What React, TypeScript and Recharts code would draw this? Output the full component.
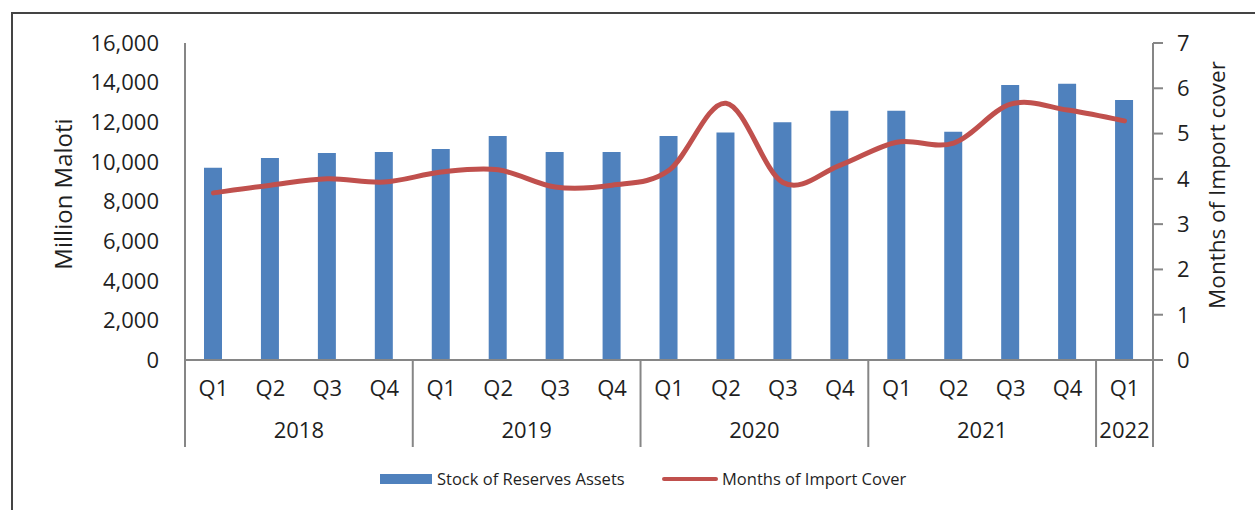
import React from 'react';
import { ComposedChart, Bar, Line, XAxis, YAxis, Legend } from 'recharts';

const quarters = ['Q1', 'Q2', 'Q3', 'Q4', 'Q1', 'Q2', 'Q3', 'Q4', 'Q1', 'Q2', 'Q3', 'Q4', 'Q1', 'Q2', 'Q3', 'Q4', 'Q1'];
const years = ['2018', '2018', '2018', '2018', '2019', '2019', '2019', '2019', '2020', '2020', '2020', '2020', '2021', '2021', '2021', '2021', '2022'];
const reserves = [9700, 10200, 10450, 10500, 10650, 11300, 10500, 10500, 11300, 11480, 12000, 12580, 12580, 11520, 13880, 13940, 13120];
const importCover = [3.69, 3.86, 4.0, 3.93, 4.15, 4.2, 3.82, 3.86, 4.19, 5.67, 3.92, 4.3, 4.81, 4.79, 5.65, 5.52, 5.28];
const leftTicks = [0, 2000, 4000, 6000, 8000, 10000, 12000, 14000, 16000];
const rightTicks = [0, 1, 2, 3, 4, 5, 6, 7];

const data = quarters.map((q, i) => ({
  key: `${years[i]}-${q}`,
  q,
  year: years[i],
  reserves: reserves[i],
  cover: importCover[i],
}));

const FONT = '"Open Sans", sans-serif';
const TEXT = '#1f1f1f';
const AXIS = '#868686';
const BLUE = '#4F81BD';
const RED = '#C0504D';

// Excel-like smoothed line (Catmull-Rom through points)
function excelCurve(context: any) {
  let pts: [number, number][] = [];
  return {
    areaStart() {},
    areaEnd() {},
    lineStart() {
      pts = [];
    },
    point(x: number, y: number) {
      pts.push([+x, +y]);
    },
    lineEnd() {
      const n = pts.length;
      if (!n) return;
      context.moveTo(pts[0][0], pts[0][1]);
      for (let i = 0; i < n - 1; i++) {
        const p0 = pts[Math.max(i - 1, 0)];
        const p1 = pts[i];
        const p2 = pts[i + 1];
        const p3 = pts[Math.min(i + 2, n - 1)];
        context.bezierCurveTo(
          p1[0] + (p2[0] - p0[0]) / 6,
          p1[1] + (p2[1] - p0[1]) / 6,
          p2[0] - (p3[0] - p1[0]) / 6,
          p2[1] - (p3[1] - p1[1]) / 6,
          p2[0],
          p2[1]
        );
      }
    },
  };
}

const PLOT_W = 968;

const CategoryTick = (props: any) => {
  const { x, y, payload, index } = props;
  const i = typeof index === 'number' ? index : payload.index;
  const band = payload && payload.offset ? payload.offset * 2 : PLOT_W / data.length;
  const row = data[i];
  const els: React.ReactNode[] = [];
  els.push(
    <text key="q" x={x} y={y + 19} textAnchor="middle" dominantBaseline="central" fontFamily={FONT} fontSize={22} fill={TEXT}>
      {row.q}
    </text>
  );
  const isStart = i === 0 || data[i - 1].year !== row.year;
  if (isStart) {
    let count = 0;
    for (let j = i; j < data.length && data[j].year === row.year; j++) count++;
    const left = x - band / 2;
    els.push(<line key="sep" x1={left} x2={left} y1={y - 8} y2={y + 79} stroke={AXIS} strokeWidth={2} />);
    els.push(
      <text key="y" x={left + (count * band) / 2} y={y + 61} textAnchor="middle" dominantBaseline="central" fontFamily={FONT} fontSize={22} fill={TEXT}>
        {row.year}
      </text>
    );
  }
  if (i === data.length - 1) {
    const right = x + band / 2;
    els.push(<line key="end" x1={right} x2={right} y1={y - 8} y2={y + 79} stroke={AXIS} strokeWidth={2} />);
  }
  return <g>{els}</g>;
};

const LegendContent = () => (
  <div style={{ position: 'relative', height: 26, width: 1255, fontFamily: FONT, fontSize: 16.5, color: TEXT }}>
    <div style={{ position: 'absolute', left: 380, top: 8, width: 52, height: 10, background: BLUE }} />
    <span style={{ position: 'absolute', left: 437, top: 2, lineHeight: '22px', whiteSpace: 'nowrap' }}>Stock of Reserves Assets</span>
    <div style={{ position: 'absolute', left: 662, top: 11, width: 56, height: 4, background: RED, borderRadius: 2 }} />
    <span style={{ position: 'absolute', left: 722, top: 2, lineHeight: '22px', whiteSpace: 'nowrap' }}>Months of Import Cover</span>
  </div>
);

const LeftTitle = () => (
  <text x={62} y={194} transform="rotate(-90 62 194)" textAnchor="middle" dominantBaseline="central" fontFamily={FONT} fontSize={24} fill={TEXT}>
    Million Maloti
  </text>
);

const RightTitle = () => (
  <text x={1216} y={185} transform="rotate(-90 1216 185)" textAnchor="middle" dominantBaseline="central" fontFamily={FONT} fontSize={22.5} fill={TEXT}>
    Months of Import cover
  </text>
);

export default function App() {
  return (
    <div style={{ position: 'absolute', left: 0, top: 0, width: 1255, height: 510, background: '#fff', overflow: 'hidden' }}>
      <div
        style={{
          position: 'absolute',
          left: 11,
          top: 12,
          width: 1300,
          height: 600,
          border: '2px solid #444',
          boxSizing: 'border-box',
        }}
      />
      <ComposedChart
        width={1255}
        height={510}
        data={data}
        margin={{ top: 43, right: 42, left: 85, bottom: 18 }}
        barCategoryGap={0}
        style={{ position: 'absolute', left: 0, top: 0 }}
      >
        <XAxis
          dataKey="key"
          xAxisId={0}
          interval={0}
          tick={<CategoryTick />}
          tickLine={false}
          axisLine={{ stroke: AXIS, strokeWidth: 2 }}
          height={106}
        />
        <YAxis
          yAxisId="left"
          orientation="left"
          width={100}
          domain={[0, 16000]}
          ticks={leftTicks}
          tickFormatter={(v: number) => v.toLocaleString('en-US')}
          tickLine={false}
          tickSize={0}
          tickMargin={26}
          axisLine={{ stroke: AXIS, strokeWidth: 2 }}
          tick={{ fontFamily: FONT, fontSize: 22, fill: TEXT }}
          label={<LeftTitle />}
        />
        <YAxis
          yAxisId="right"
          orientation="right"
          width={60}
          domain={[0, 7]}
          ticks={rightTicks}
          tickSize={10}
          tickMargin={14}
          tickLine={{ stroke: AXIS, strokeWidth: 2 }}
          axisLine={{ stroke: AXIS, strokeWidth: 2 }}
          tick={{ fontFamily: FONT, fontSize: 22, fill: TEXT, textAnchor: 'start' }}
          label={<RightTitle />}
        />
        <Legend verticalAlign="bottom" align="left" height={26} content={<LegendContent />} wrapperStyle={{ left: 0, width: 1255 }} />
        <Bar yAxisId="left" dataKey="reserves" name="Stock of Reserves Assets" fill={BLUE} barSize={18} isAnimationActive={false} />
        <Line
          yAxisId="right"
          dataKey="cover"
          name="Months of Import Cover"
          type={excelCurve as any}
          stroke={RED}
          strokeWidth={5}
          dot={false}
          activeDot={false}
          strokeLinecap="round"
          isAnimationActive={false}
        />
      </ComposedChart>
    </div>
  );
}
